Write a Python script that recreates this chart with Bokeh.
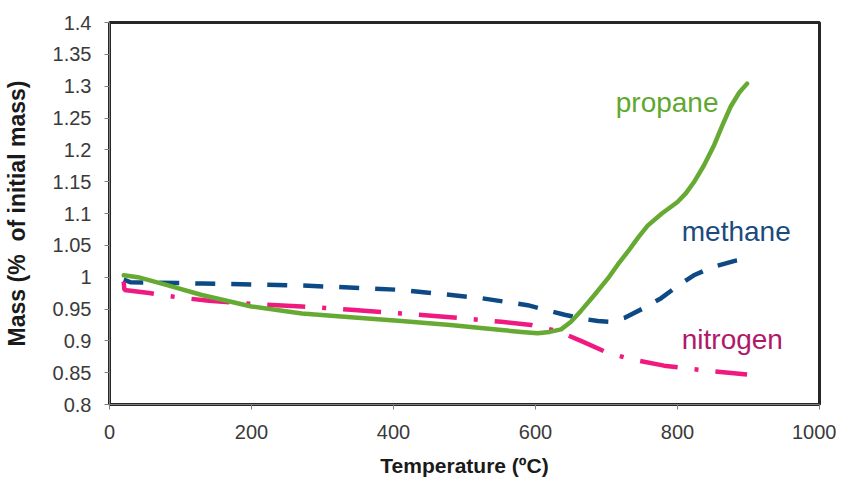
from bokeh.plotting import figure
from bokeh.models import Range1d, FixedTicker, Label
from bokeh.embed import file_html
from bokeh.resources import INLINE

# Data
propane_t = [20, 40, 80, 130, 200, 271, 340, 411, 480, 552, 580, 603, 620, 636, 650, 664, 683, 702, 716, 730,
             745, 758, 778, 800, 812, 823, 837, 851, 863, 875, 887, 898]
propane_m = [1.003, 1.0, 0.988, 0.972, 0.954, 0.943, 0.937, 0.931, 0.925, 0.917, 0.914, 0.912, 0.914, 0.918, 0.930,
             0.947, 0.972, 0.998, 1.020, 1.040, 1.063, 1.081, 1.100, 1.118, 1.132, 1.149, 1.175, 1.206, 1.238,
             1.268, 1.290, 1.304]

methane_t = [20, 30, 131, 271, 411, 524, 589, 641, 665, 688, 705, 725, 750, 777, 800, 823, 850, 882, 895]
methane_m = [0.996, 0.992, 0.99, 0.987, 0.98, 0.967, 0.956, 0.941, 0.935, 0.931, 0.930, 0.936, 0.950, 0.967,
             0.986, 1.003, 1.016, 1.026, 1.028]

nitrogen_t = [20, 21, 56, 98, 140, 200, 271, 340, 411, 480, 552, 594, 632, 664, 702, 735, 781, 842, 898]
nitrogen_m = [0.993, 0.980, 0.975, 0.968, 0.963, 0.958, 0.954, 0.949, 0.943, 0.937, 0.930, 0.925, 0.915, 0.900,
              0.881, 0.871, 0.861, 0.853, 0.847]

x_ticks = [0, 200, 400, 600, 800, 1000]
y_ticks = [0.8, 0.85, 0.9, 0.95, 1.0, 1.05, 1.1, 1.15, 1.2, 1.25, 1.3, 1.35, 1.4]
y_tick_labels = {0.8: "0.8", 0.85: "0.85", 0.9: "0.9", 0.95: "0.95", 1.0: "1", 1.05: "1.05",
                 1.1: "1.1", 1.15: "1.15", 1.2: "1.2", 1.25: "1.25", 1.3: "1.3", 1.35: "1.35", 1.4: "1.4"}

FONT = "Liberation Sans"

p = figure(width=836, height=479, output_backend="svg", toolbar_location=None,
           x_range=Range1d(0, 1000), y_range=Range1d(0.8, 1.4),
           min_border_left=107, min_border_right=17, min_border_top=22, min_border_bottom=72)

p.grid.visible = False
p.outline_line_color = "#262626"
p.outline_line_width = 3
p.background_fill_color = "white"
p.border_fill_color = "white"

for ax in (p.xaxis[0], p.yaxis[0]):
    ax.axis_line_color = "#808080"
    ax.major_tick_line_color = "#808080"
    ax.minor_tick_line_color = None
    ax.major_tick_out = 5
    ax.major_tick_in = 0
    ax.major_label_text_font = FONT
    ax.major_label_text_font_size = "20px"
    ax.major_label_text_color = "#3a3a3a"
    ax.axis_label_text_font = FONT
    ax.axis_label_text_font_size = "21px"
    ax.axis_label_text_font_style = "bold"
    ax.axis_label_text_color = "#1a1a1a"

p.xaxis.ticker = FixedTicker(ticks=x_ticks)
p.yaxis.ticker = FixedTicker(ticks=y_ticks)
p.yaxis.major_label_overrides = y_tick_labels
p.xaxis.axis_label = "Temperature (ºC)"
p.yaxis.axis_label = "Mass (%\u00a0 of initial mass)"
p.yaxis.axis_label_text_font_size = "23px"
p.xaxis.major_label_standoff = 15
p.xaxis.axis_label_standoff = 12
p.yaxis.major_label_standoff = 13
p.yaxis.axis_label_standoff = 20

p.line(methane_t, methane_m, line_color="#0D4A85", line_width=4.5, line_dash="20 16")
p.line(nitrogen_t, nitrogen_m, line_color="#F0197F", line_width=4.5, line_dash="38 17 4 17")
p.line(propane_t, propane_m, line_color="#66AA33", line_width=4.5, line_join="round", line_cap="round")

labels = [("propane", 713, 1.275, "#5FA830"), ("methane", 806, 1.071, "#1B4B7D"), ("nitrogen", 806, 0.902, "#B0186A")]
for txt, x, y, c in labels:
    p.add_layout(Label(x=x, y=y, text=txt, text_color=c, text_font=FONT, text_font_size="28px",
                       text_align="left", text_baseline="alphabetic"))

open("out.html", "w").write(file_html(p, INLINE))
